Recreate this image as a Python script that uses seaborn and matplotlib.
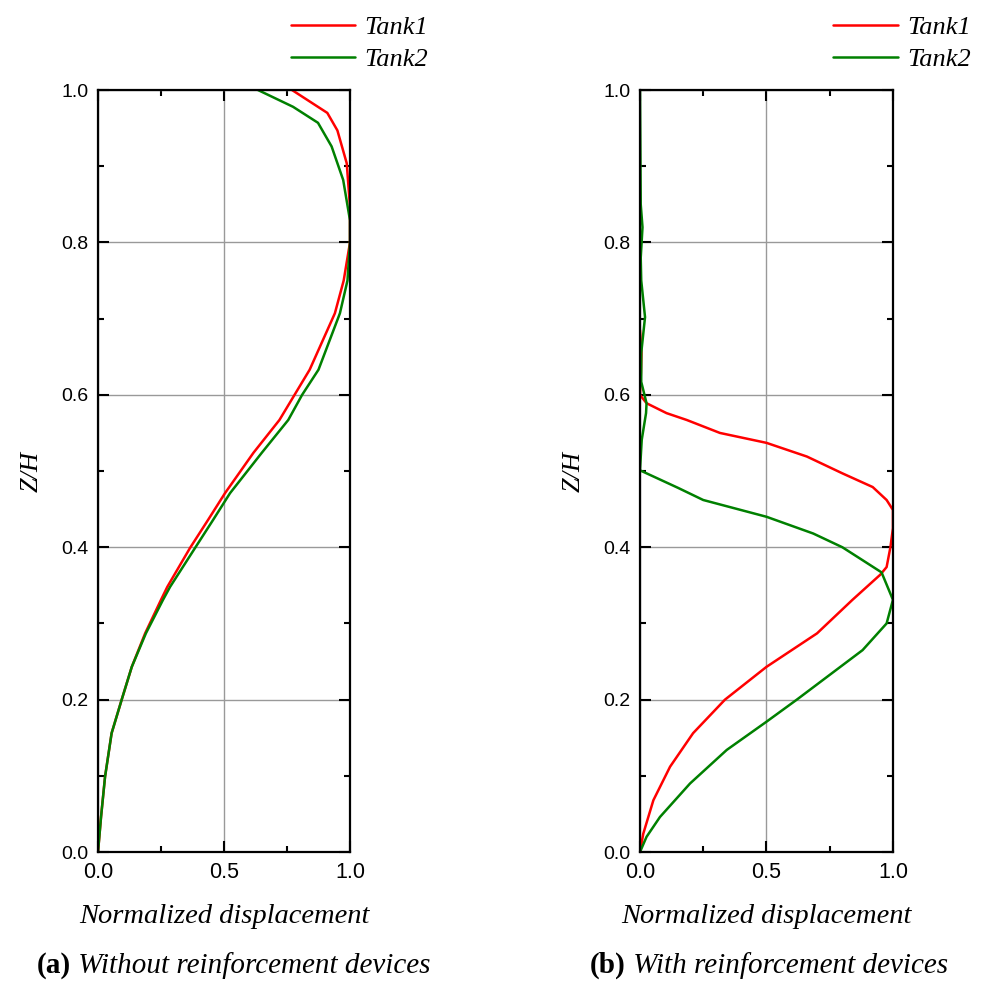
import numpy as np
import pandas as pd
import seaborn as sns
from matplotlib import pyplot as plt
from matplotlib.ticker import MultipleLocator

# panel (a): without reinforcement devices
a_z_tank1 = [0, 0.046, 0.099, 0.156, 0.2, 0.243, 0.287, 0.331, 0.348, 0.399, 0.436, 0.471,
             0.524, 0.567, 0.6, 0.633, 0.707, 0.75, 0.8, 0.847, 0.904, 0.947, 0.97, 1.0]
a_x_tank1 = [0, 0.012, 0.028, 0.054, 0.094, 0.134, 0.187, 0.25, 0.275, 0.365, 0.437, 0.504,
             0.617, 0.72, 0.78, 0.84, 0.94, 0.975, 1.0, 1.0, 0.987, 0.95, 0.91, 0.77]
a_z_tank2 = [0, 0.046, 0.099, 0.156, 0.2, 0.243, 0.287, 0.331, 0.348, 0.399, 0.436, 0.471,
             0.524, 0.567, 0.6, 0.633, 0.707, 0.75, 0.8, 0.829, 0.882, 0.926, 0.957, 0.978, 1.0]
a_x_tank2 = [0, 0.012, 0.028, 0.054, 0.094, 0.134, 0.19, 0.258, 0.286, 0.385, 0.457, 0.524,
             0.65, 0.755, 0.81, 0.875, 0.96, 0.99, 1.0, 1.0, 0.973, 0.927, 0.873, 0.774, 0.635]

# panel (b): with reinforcement devices
b_z_tank1 = [0, 0.024, 0.068, 0.112, 0.156, 0.2, 0.243, 0.287, 0.331, 0.364, 0.374, 0.4,
             0.425, 0.449, 0.462, 0.479, 0.497, 0.519, 0.537, 0.55, 0.567, 0.576, 0.589,
             0.6, 0.63, 0.655, 0.685]
b_x_tank1 = [0, 0.013, 0.053, 0.119, 0.21, 0.336, 0.50, 0.70, 0.84, 0.95, 0.975, 0.99,
             1.0, 1.0, 0.975, 0.92, 0.80, 0.66, 0.50, 0.316, 0.185, 0.105, 0.026,
             0.0, 0.004, 0.006, 0.0]
b_z_tank2 = [0, 0.02, 0.046, 0.09, 0.134, 0.171, 0.2, 0.23, 0.265, 0.3, 0.331, 0.367, 0.383,
             0.4, 0.418, 0.44, 0.462, 0.478, 0.497, 0.501, 0.541, 0.576, 0.589, 0.617, 0.655,
             0.702, 0.75, 0.78, 0.82, 0.85, 0.9, 1.0]
b_x_tank2 = [0, 0.026, 0.079, 0.198, 0.343, 0.50, 0.62, 0.74, 0.88, 0.975, 1.0, 0.955, 0.88,
             0.80, 0.685, 0.50, 0.25, 0.15, 0.026, 0.0, 0.007, 0.024, 0.026, 0.005, 0.005,
             0.02, 0.005, 0.003, 0.01, 0.003, 0.002, 0.0]

series_names = ["Tank1", "Tank2"]
colores = ["#ff0000", "#008000"]
x_ticks = [0.0, 0.5, 1.0]
y_ticks = [0.0, 0.2, 0.4, 0.6, 0.8, 1.0]


def armar_df(z1, x1, z2, x2):
    d1 = pd.DataFrame({"z": z1, "x": x1, "serie": series_names[0]})
    d2 = pd.DataFrame({"z": z2, "x": x2, "serie": series_names[1]})
    return pd.concat([d1, d2], ignore_index=True)


sns.set_style("ticks")
plt.rcParams["font.family"] = ["Liberation Sans", "DejaVu Sans"]
plt.rcParams["text.color"] = "black"
plt.rcParams["axes.labelcolor"] = "black"
plt.rcParams["xtick.color"] = "black"
plt.rcParams["ytick.color"] = "black"
serif = ["Liberation Serif", "DejaVu Serif"]

fig = plt.figure(figsize=(9.87, 9.84), dpi=100)
ax_a = fig.add_axes([0.0993, 0.1341, 0.2553, 0.7744])
ax_b = fig.add_axes([0.6484, 0.1341, 0.2563, 0.7744])

paneles = [
    (ax_a, armar_df(a_z_tank1, a_x_tank1, a_z_tank2, a_x_tank2), 0.2705, "(a)", " Without reinforcement devices", 0.0375),
    (ax_b, armar_df(b_z_tank1, b_x_tank1, b_z_tank2, b_x_tank2), 0.82, "(b)", " With reinforcement devices", 0.598),
]

for ax, df, leg_x, letra, caption, cap_x in paneles:
    sns.lineplot(data=df, x="x", y="z", hue="serie", palette=colores, sort=False,
                 estimator=None, linewidth=1.8, legend=False, ax=ax)
    ax.set_xlim(0, 1)
    ax.set_ylim(0, 1)
    ax.set_xticks(x_ticks)
    ax.set_yticks(y_ticks)
    ax.xaxis.set_minor_locator(MultipleLocator(0.25))
    ax.yaxis.set_minor_locator(MultipleLocator(0.1))
    ax.grid(True, which="major", color="#999999", linewidth=1.0)
    ax.tick_params(which="both", direction="in", top=True, right=True, width=1.5,
                   color="black", labelcolor="black")
    ax.tick_params(axis="x", labelsize=15.5)
    ax.tick_params(axis="y", labelsize=14)
    ax.tick_params(which="major", length=8, pad=7)
    ax.tick_params(which="minor", length=4)
    for sp in ax.spines.values():
        sp.set_linewidth(1.6)
        sp.set_color("black")
        sp.set_zorder(5)
    ax.set_xlabel("Normalized displacement", family=serif, style="italic", fontsize=20.5)
    ax.set_ylabel("Z/H", family=serif, style="italic", fontsize=19)
    ax.xaxis.set_label_coords(0.5, -0.068)
    ax.yaxis.set_label_coords(-0.22, 0.5)
    ax.legend(handles=ax.get_lines()[:2], labels=series_names, loc="upper left",
              bbox_to_anchor=(leg_x, 1.008), bbox_transform=fig.transFigure,
              frameon=False, handlelength=2.45, prop={"family": serif, "style": "italic", "size": 19},
              labelspacing=0.3, handletextpad=0.35)
    t = fig.text(cap_x, 0.012, letra, family=serif, weight="bold", fontsize=21, va="baseline")
    ax.annotate(caption, xy=(1, 0), xycoords=t, family=serif, style="italic",
                fontsize=21, va="bottom", ha="left", annotation_clip=False)

plt.savefig("out.png", dpi=100)
plt.close()
